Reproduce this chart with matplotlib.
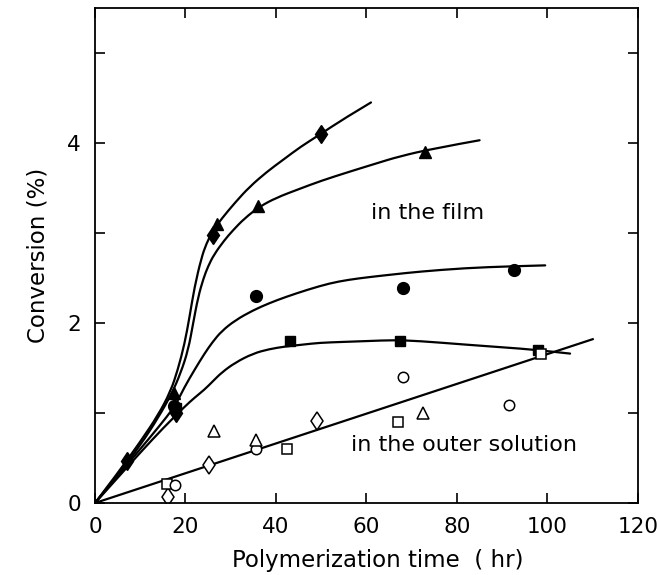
import matplotlib
matplotlib.use("Agg")
import matplotlib.pyplot as plt
from matplotlib.path import Path
from matplotlib.patches import PathPatch

# --- measured conversion in the film (filled markers) ---
film_diamond_x = [7, 18, 26, 50]
film_diamond_y = [0.47, 1.00, 2.98, 4.10]
film_triangle_x = [17.5, 27, 36, 73]
film_triangle_y = [1.22, 3.10, 3.30, 3.90]
film_circle_x = [17.5, 35.5, 68, 92.5]
film_circle_y = [1.08, 2.30, 2.39, 2.59]
film_square_x = [18, 43, 67.5, 98]
film_square_y = [1.05, 1.80, 1.80, 1.70]

# --- measured conversion in the outer solution (open markers) ---
outer_diamond_x = [16.2, 25.2, 49]
outer_diamond_y = [0.07, 0.42, 0.91]
outer_square_x = [16, 42.5, 67, 98.5]
outer_square_y = [0.21, 0.60, 0.90, 1.65]
outer_circle_x = [17.6, 35.6, 68, 91.6]
outer_circle_y = [0.20, 0.60, 1.40, 1.09]
outer_triangle_x = [26.2, 35.5, 72.5]
outer_triangle_y = [0.80, 0.70, 1.00]

# --- hand-drawn guide curves through each series (control knots) ---
curve_diamond_x = [0, 5, 10, 14, 16.7, 18.3, 19.8, 20.9, 22, 23.5, 24.6, 26, 28,
                   31, 34.1, 38, 41.5, 45.5, 49.6, 55, 61]
curve_diamond_y = [0, 0.33, 0.68, 0.98, 1.24, 1.48, 1.77, 2.07, 2.40, 2.72, 2.88,
                   3.02, 3.16, 3.34, 3.51, 3.68, 3.81, 3.96, 4.09, 4.27, 4.45]
curve_triangle_x = [0, 5, 10, 14, 17, 18.9, 20.6, 21.7, 22.8, 24, 25, 26.3, 28.6,
                    30.5, 33, 36.3, 40, 45.2, 50, 56.2, 62, 67.2, 75, 85]
curve_triangle_y = [0, 0.31, 0.64, 0.95, 1.22, 1.44, 1.70, 2.00, 2.29, 2.50,
                    2.63, 2.76, 2.92, 3.03, 3.16, 3.29, 3.39, 3.49, 3.58, 3.68,
                    3.77, 3.85, 3.94, 4.03]
curve_circle_x = [0, 5, 10, 14, 17.6, 19.8, 22, 24.2, 26, 28, 31, 34.9, 38.5,
                  42.2, 47, 51.8, 56, 60.6, 66, 71.6, 81.8, 92, 99.5]
curve_circle_y = [0, 0.30, 0.60, 0.84, 1.07, 1.29, 1.48, 1.66, 1.79, 1.91, 2.03,
                  2.14, 2.22, 2.29, 2.37, 2.44, 2.48, 2.51, 2.54, 2.57, 2.61,
                  2.63, 2.64]
curve_square_x = [0, 5, 10, 15, 19.8, 22, 24.2, 26, 28, 31, 34.9, 38.5, 42.2,
                  46, 49.6, 55, 60.6, 66, 71.6, 81.8, 90, 98, 105]
curve_square_y = [0, 0.28, 0.56, 0.83, 1.07, 1.17, 1.26, 1.35, 1.45, 1.56,
                  1.66, 1.71, 1.74, 1.76, 1.78, 1.79, 1.80, 1.81, 1.80, 1.76,
                  1.73, 1.70, 1.66]
outer_line_x = [0, 110]
outer_line_y = [0, 1.82]

x_ticks = [0, 20, 40, 60, 80, 100, 120]
x_tick_labels = ["0", "20", "40", "60", "80", "100", "120"]
y_ticks = [0, 1, 2, 3, 4, 5]
y_tick_labels = ["0", "", "2", "", "4", ""]

plt.rcParams["font.family"] = ["DejaVu Sans"]


def smooth_path(xs, ys):
    """Quadratic Bezier path that uses the knots as control points."""
    pts = list(zip(xs, ys))
    verts = [pts[0]]
    codes = [Path.MOVETO]
    for i in range(1, len(pts) - 1):
        mid = ((pts[i][0] + pts[i + 1][0]) / 2, (pts[i][1] + pts[i + 1][1]) / 2)
        end = pts[i + 1] if i == len(pts) - 2 else mid
        verts += [pts[i], end]
        codes += [Path.CURVE3, Path.CURVE3]
    return Path(verts, codes)


fig = plt.figure(figsize=(6.57, 5.75), dpi=100)
ax = fig.add_axes([0.1446, 0.1252, 0.8264, 0.861])

for cx, cy in [(curve_diamond_x, curve_diamond_y),
               (curve_triangle_x, curve_triangle_y),
               (curve_circle_x, curve_circle_y),
               (curve_square_x, curve_square_y)]:
    ax.add_patch(PathPatch(smooth_path(cx, cy), facecolor="none",
                           edgecolor="black", lw=1.6, capstyle="round"))
ax.plot(outer_line_x, outer_line_y, color="black", lw=1.6)

filled = dict(linestyle="none", color="black", markeredgecolor="black")
ax.plot(film_diamond_x, film_diamond_y, marker="d", markersize=9.5, **filled)
ax.plot(film_triangle_x, film_triangle_y, marker="^", markersize=8, **filled)
ax.plot(film_circle_x, film_circle_y, marker="o", markersize=8.5, **filled)
ax.plot(film_square_x, film_square_y, marker="s", markersize=7.5, **filled)

hollow = dict(linestyle="none", markerfacecolor="white", markeredgecolor="black",
              markeredgewidth=1.1)
ax.plot(outer_diamond_x, outer_diamond_y, marker="d", markersize=9.5, **hollow)
ax.plot(outer_square_x, outer_square_y, marker="s", markersize=6.5, **hollow)
ax.plot(outer_circle_x, outer_circle_y, marker="o", markersize=7.5, **hollow)
ax.plot(outer_triangle_x, outer_triangle_y, marker="^", markersize=9, **hollow)

ax.text(73.6, 3.22, "in the film", fontsize=16, ha="center", va="center")
ax.text(81.5, 0.64, "in the outer solution", fontsize=16, ha="center", va="center")

ax.set_xlim(0, 120)
ax.set_ylim(0, 5.5)
ax.set_xticks(x_ticks)
ax.set_xticklabels(x_tick_labels)
ax.set_yticks(y_ticks)
ax.set_yticklabels(y_tick_labels)
ax.tick_params(direction="in", length=7, width=1.2, labelsize=15.5,
               top=True, right=True)
ax.tick_params(axis="x", pad=10)
ax.tick_params(axis="y", pad=10)
for side in ax.spines.values():
    side.set_linewidth(1.3)

ax.set_xlabel("Polymerization time  ( hr)", fontsize=16.5)
ax.xaxis.set_label_coords(0.52, -0.093)
ax.set_ylabel("Conversion (%)", fontsize=16.5)
ax.yaxis.set_label_coords(-0.083, 0.5)

fig.savefig("out.png", dpi=100)
